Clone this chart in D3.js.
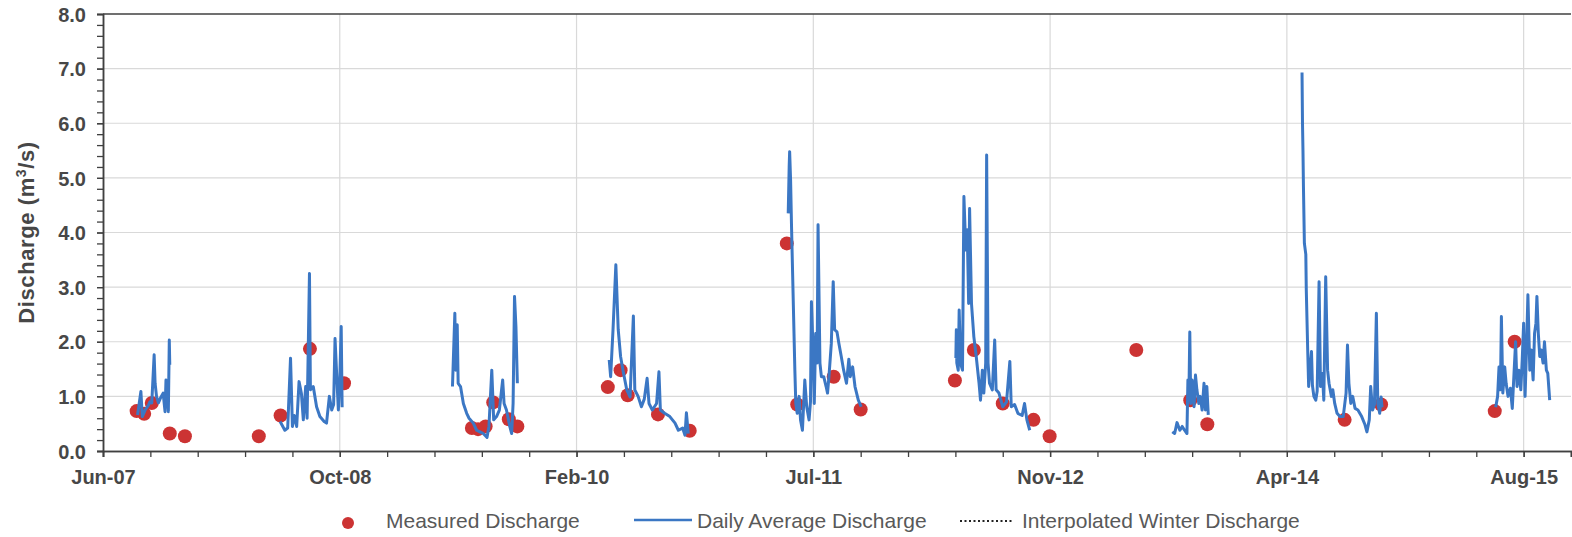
<!DOCTYPE html>
<html>
<head>
<meta charset="utf-8">
<script src="https://cdn.jsdelivr.net/npm/d3@7"></script>
<style>
  body { margin: 0; background: #fff; }
  text { font-family: "Liberation Sans", Arial, sans-serif; }
</style>
</head>
<body>
<svg id="chart" width="1572" height="537"></svg>
<script>
// ---- data ----
const axisStart = "2007-06-01";
const axisDays = 3100;      // axis runs 3100 days, major every 500, minor every 100
const xTickLabels = ["Jun-07", "Oct-08", "Feb-10", "Jul-11", "Nov-12", "Apr-14", "Aug-15"];
const yTicks = [0, 1, 2, 3, 4, 5, 6, 7, 8];

const measured = [
  ["2007-08-11", 0.73], ["2007-08-27", 0.68], ["2007-09-12", 0.88], ["2007-10-20", 0.32],
  ["2007-11-21", 0.27], ["2008-04-25", 0.27], ["2008-06-10", 0.65], ["2008-08-11", 1.87],
  ["2008-10-22", 1.24], ["2009-07-19", 0.42], ["2009-08-01", 0.40], ["2009-08-17", 0.45],
  ["2009-09-02", 0.89], ["2009-10-05", 0.58], ["2009-10-23", 0.45], ["2010-05-02", 1.17],
  ["2010-05-29", 1.48], ["2010-06-13", 1.02], ["2010-08-16", 0.67], ["2010-10-22", 0.37],
  ["2011-05-15", 3.80], ["2011-06-06", 0.85], ["2011-08-22", 1.36], ["2011-10-18", 0.76],
  ["2012-05-04", 1.29], ["2012-06-13", 1.85], ["2012-08-13", 0.87], ["2012-10-17", 0.57],
  ["2012-11-20", 0.27], ["2013-05-22", 1.85], ["2013-09-13", 0.93], ["2013-10-19", 0.49],
  ["2014-08-05", 0.57], ["2014-10-21", 0.85], ["2015-06-18", 0.73], ["2015-07-30", 2.00]
];

const daily2007 = [
  ["2007-08-13", 0.66], ["2007-08-20", 1.09], ["2007-08-23", 0.63], ["2007-08-29", 0.75],
  ["2007-09-05", 0.84], ["2007-09-08", 0.90], ["2007-09-12", 0.88], ["2007-09-17", 1.76],
  ["2007-09-19", 1.24], ["2007-09-22", 1.00], ["2007-09-26", 0.88], ["2007-10-01", 0.98],
  ["2007-10-06", 1.06], ["2007-10-10", 0.72], ["2007-10-12", 1.30], ["2007-10-14", 1.20],
  ["2007-10-17", 0.72], ["2007-10-19", 2.03], ["2007-10-20", 1.58]
];
const daily2008 = [
  ["2008-06-09", 0.54], ["2008-06-19", 0.38], ["2008-06-25", 0.42], ["2008-07-01", 1.70],
  ["2008-07-05", 0.45], ["2008-07-09", 0.65], ["2008-07-14", 0.45], ["2008-07-19", 1.27],
  ["2008-07-24", 1.05], ["2008-07-28", 0.57], ["2008-08-02", 1.18], ["2008-08-05", 0.60],
  ["2008-08-10", 3.25], ["2008-08-12", 1.12], ["2008-08-18", 1.18], ["2008-08-25", 0.81],
  ["2008-09-01", 0.63], ["2008-09-10", 0.54], ["2008-09-15", 0.51], ["2008-09-21", 1.00],
  ["2008-09-26", 0.75], ["2008-09-30", 0.85], ["2008-10-03", 2.06], ["2008-10-06", 1.48],
  ["2008-10-10", 0.75], ["2008-10-13", 1.30], ["2008-10-16", 2.28], ["2008-10-18", 0.80]
];
const daily2009 = [
  ["2009-06-08", 1.18], ["2009-06-13", 2.52], ["2009-06-15", 1.48], ["2009-06-18", 2.31],
  ["2009-06-20", 1.24], ["2009-06-25", 1.18], ["2009-07-01", 0.87], ["2009-07-08", 0.69],
  ["2009-07-13", 0.60], ["2009-07-22", 0.51], ["2009-07-29", 0.38], ["2009-08-05", 0.35],
  ["2009-08-12", 0.32], ["2009-08-20", 0.25], ["2009-08-24", 0.45], ["2009-08-30", 1.48],
  ["2009-09-03", 0.57], ["2009-09-09", 0.63], ["2009-09-15", 0.75], ["2009-09-22", 1.30],
  ["2009-09-25", 0.87], ["2009-09-30", 0.75], ["2009-10-07", 0.45], ["2009-10-11", 0.32],
  ["2009-10-14", 0.87], ["2009-10-17", 2.83], ["2009-10-20", 2.28], ["2009-10-23", 1.24]
];
const daily2010 = [
  ["2010-05-05", 1.67], ["2010-05-08", 1.36], ["2010-05-13", 2.22], ["2010-05-19", 3.41],
  ["2010-05-24", 2.22], ["2010-05-29", 1.73], ["2010-06-03", 1.48], ["2010-06-11", 1.12],
  ["2010-06-18", 0.99], ["2010-06-25", 2.47], ["2010-06-28", 1.12], ["2010-07-05", 1.00],
  ["2010-07-12", 0.81], ["2010-07-18", 0.95], ["2010-07-24", 1.33], ["2010-07-28", 0.87],
  ["2010-08-04", 0.75], ["2010-08-13", 0.87], ["2010-08-18", 1.45], ["2010-08-21", 0.75],
  ["2010-08-30", 0.69], ["2010-09-10", 0.63], ["2010-09-21", 0.51], ["2010-09-28", 0.38],
  ["2010-10-07", 0.42], ["2010-10-12", 0.29], ["2010-10-15", 0.70], ["2010-10-19", 0.32]
];
const daily2011 = [
  ["2011-05-18", 4.35], ["2011-05-20", 5.20], ["2011-05-21", 5.48], ["2011-05-23", 4.96],
  ["2011-05-25", 4.10], ["2011-06-01", 1.48], ["2011-06-03", 0.87], ["2011-06-06", 0.69],
  ["2011-06-10", 1.00], ["2011-06-13", 0.57], ["2011-06-17", 0.38], ["2011-06-22", 1.30],
  ["2011-06-26", 0.81], ["2011-07-01", 0.57], ["2011-07-04", 0.90], ["2011-07-06", 2.73],
  ["2011-07-09", 1.97], ["2011-07-12", 0.87], ["2011-07-15", 2.15], ["2011-07-18", 1.61],
  ["2011-07-20", 4.14], ["2011-07-24", 1.61], ["2011-07-27", 1.36], ["2011-08-01", 1.36],
  ["2011-08-06", 1.18], ["2011-08-09", 1.06], ["2011-08-12", 1.36], ["2011-08-17", 1.97],
  ["2011-08-21", 3.10], ["2011-08-24", 2.22], ["2011-08-29", 2.18], ["2011-09-02", 1.97],
  ["2011-09-07", 1.73], ["2011-09-12", 1.48], ["2011-09-18", 1.24], ["2011-09-23", 1.68],
  ["2011-09-26", 1.36], ["2011-10-01", 1.54], ["2011-10-06", 1.18], ["2011-10-13", 0.93],
  ["2011-10-19", 0.81]
];
const daily2012 = [
  ["2012-05-06", 1.70], ["2012-05-07", 2.22], ["2012-05-08", 1.61], ["2012-05-11", 1.48],
  ["2012-05-13", 2.58], ["2012-05-16", 1.60], ["2012-05-20", 1.48], ["2012-05-23", 4.66],
  ["2012-05-27", 3.68], ["2012-05-30", 4.05], ["2012-06-02", 2.70], ["2012-06-04", 4.44],
  ["2012-06-08", 2.70], ["2012-06-13", 2.09], ["2012-06-18", 1.73], ["2012-06-24", 1.24],
  ["2012-06-27", 0.93], ["2012-07-01", 1.48], ["2012-07-04", 1.06], ["2012-07-08", 1.61],
  ["2012-07-10", 5.42], ["2012-07-13", 1.61], ["2012-07-16", 1.24], ["2012-07-22", 1.12],
  ["2012-07-27", 2.03], ["2012-07-30", 1.12], ["2012-08-05", 1.06], ["2012-08-13", 0.81],
  ["2012-08-21", 0.90], ["2012-08-28", 1.64], ["2012-08-31", 0.81], ["2012-09-07", 0.85],
  ["2012-09-14", 0.69], ["2012-09-23", 0.65], ["2012-09-28", 0.87], ["2012-10-03", 0.57],
  ["2012-10-09", 0.38]
];
const daily2013 = [
  ["2013-08-06", 0.35], ["2013-08-11", 0.32], ["2013-08-16", 0.52], ["2013-08-22", 0.38],
  ["2013-08-27", 0.45], ["2013-09-01", 0.38], ["2013-09-06", 0.32], ["2013-09-08", 1.30],
  ["2013-09-10", 0.93], ["2013-09-12", 2.18], ["2013-09-14", 0.87], ["2013-09-17", 1.30],
  ["2013-09-21", 0.81], ["2013-09-24", 1.39], ["2013-09-27", 1.12], ["2013-10-01", 0.87],
  ["2013-10-04", 1.00], ["2013-10-08", 0.75], ["2013-10-12", 1.24], ["2013-10-15", 0.75],
  ["2013-10-18", 1.18], ["2013-10-21", 0.66]
];
const daily2014 = [
  ["2014-05-07", 6.93], ["2014-05-08", 6.00], ["2014-05-09", 5.50], ["2014-05-10", 4.84],
  ["2014-05-12", 3.80], ["2014-05-15", 3.60], ["2014-05-16", 2.95], ["2014-05-19", 1.85],
  ["2014-05-21", 1.18], ["2014-05-24", 1.50], ["2014-05-27", 1.82], ["2014-05-29", 1.20],
  ["2014-06-01", 1.00], ["2014-06-05", 0.93], ["2014-06-08", 1.10], ["2014-06-12", 3.10],
  ["2014-06-15", 1.18], ["2014-06-19", 1.42], ["2014-06-22", 0.93], ["2014-06-26", 3.19],
  ["2014-06-30", 1.48], ["2014-07-03", 1.24], ["2014-07-08", 1.00], ["2014-07-11", 1.12],
  ["2014-07-15", 0.87], ["2014-07-20", 0.69], ["2014-07-26", 0.63], ["2014-08-02", 0.63],
  ["2014-08-08", 1.06], ["2014-08-11", 1.94], ["2014-08-14", 1.24], ["2014-08-18", 0.87],
  ["2014-08-22", 1.00], ["2014-08-27", 0.78], ["2014-09-02", 0.75], ["2014-09-10", 0.63],
  ["2014-09-17", 0.48], ["2014-09-21", 0.35], ["2014-09-26", 0.57], ["2014-09-29", 1.18],
  ["2014-10-03", 0.75], ["2014-10-07", 0.85], ["2014-10-11", 2.52], ["2014-10-14", 0.87],
  ["2014-10-18", 0.69], ["2014-10-21", 0.99], ["2014-10-23", 0.80]
];
const daily2015 = [
  ["2015-06-20", 0.80], ["2015-06-24", 1.00], ["2015-06-27", 1.54], ["2015-06-30", 1.12],
  ["2015-07-02", 2.46], ["2015-07-05", 1.06], ["2015-07-09", 1.54], ["2015-07-12", 1.24],
  ["2015-07-16", 1.00], ["2015-07-21", 1.15], ["2015-07-25", 0.78], ["2015-07-29", 1.48],
  ["2015-08-01", 2.00], ["2015-08-04", 1.18], ["2015-08-08", 1.48], ["2015-08-12", 1.12],
  ["2015-08-15", 1.67], ["2015-08-18", 2.34], ["2015-08-21", 1.00], ["2015-08-24", 1.85],
  ["2015-08-27", 2.86], ["2015-08-31", 1.48], ["2015-09-03", 1.85], ["2015-09-07", 1.30],
  ["2015-09-10", 2.15], ["2015-09-13", 2.34], ["2015-09-15", 2.83], ["2015-09-18", 2.15],
  ["2015-09-21", 1.73], ["2015-09-24", 1.85], ["2015-09-28", 1.61], ["2015-10-01", 2.00],
  ["2015-10-05", 1.48], ["2015-10-08", 1.42], ["2015-10-12", 0.93]
];
// no interpolated winter values are drawn in this figure, only the legend entry
const winterInterp = [];

// ---- layout ----
const W = 1572, H = 537;
const margin = {top: 14, right: 1, bottom: 86, left: 103};
const width = W - margin.left - margin.right;
const height = H - margin.top - margin.bottom;
const axisColor = "#404040";
const labelColor = "#474747";
const blue = "#3b77c4";
const red = "#cc3333";

const parse = d3.timeParse("%Y-%m-%d");
const t0 = parse(axisStart);
const t1 = d3.timeDay.offset(t0, axisDays);

let x = d3.scaleTime().domain([t0, t1]).range([0, width]);
let y = d3.scaleLinear().domain([0, 8]).range([height, 0]);

const svg = d3.select("#chart");
svg.append("rect").attr("width", W).attr("height", H).attr("fill", "#fff");
const g = svg.append("g").attr("transform", "translate(" + margin.left + "," + margin.top + ")");

const majorDates = d3.range(0, axisDays, 500).map(d => d3.timeDay.offset(t0, d));
const minorDates = d3.range(0, axisDays + 1, 100).map(d => d3.timeDay.offset(t0, d));

// gridlines
g.append("g").selectAll("line")
  .data(yTicks.filter(v => v > 0 && v < 8))
  .enter().append("line")
  .attr("x1", 0).attr("x2", width)
  .attr("y1", d => y(d)).attr("y2", d => y(d))
  .attr("stroke", "#d9d9d9").attr("stroke-width", 1.2);

g.append("g").selectAll("line")
  .data(majorDates.slice(1))
  .enter().append("line")
  .attr("x1", d => x(d)).attr("x2", d => x(d))
  .attr("y1", 0).attr("y2", height)
  .attr("stroke", "#d9d9d9").attr("stroke-width", 1.2);

// top border
g.append("line")
  .attr("x1", 0).attr("x2", width).attr("y1", 0).attr("y2", 0)
  .attr("stroke", axisColor).attr("stroke-width", 1.5);

// x axis: minor ticks then labelled major ticks
const xMinor = g.append("g").attr("transform", "translate(0," + height + ")")
  .call(d3.axisBottom(x).tickValues(minorDates).tickSize(6).tickFormat(""));
const xMajor = g.append("g").attr("transform", "translate(0," + height + ")")
  .call(d3.axisBottom(x).tickValues(majorDates).tickSize(6).tickPadding(13)
    .tickFormat((d, i) => xTickLabels[i]));

// y axis
const yMinor = g.append("g")
  .call(d3.axisLeft(y).tickValues(d3.range(0, 8.01, 0.2)).tickSize(6).tickFormat(""));
const yMajor = g.append("g")
  .call(d3.axisLeft(y).tickValues(yTicks).tickSize(6).tickPadding(11).tickFormat(d3.format(".1f")));

[xMinor, xMajor, yMinor, yMajor].forEach(a => {
  a.select(".domain").attr("stroke", axisColor).attr("stroke-width", 1.5);
  a.selectAll(".tick line").attr("stroke", axisColor).attr("stroke-width", 1.3);
  a.selectAll("text")
    .attr("fill", labelColor)
    .style("font-size", "20px")
    .style("font-weight", "bold")
    .style("font-family", "'Liberation Sans', Arial, sans-serif");
});
yMajor.selectAll("text").attr("dy", "0.36em");

// measured points (under the line)
g.append("g").selectAll("circle")
  .data(measured)
  .enter().append("circle")
  .attr("cx", d => x(parse(d[0])))
  .attr("cy", d => y(d[1]))
  .attr("r", 7)
  .attr("fill", red);

// daily average discharge, one path per season
const line = d3.line()
  .x(d => x(parse(d[0])))
  .y(d => y(d[1]));

const seasons = [daily2007, daily2008, daily2009, daily2010, daily2011,
                 daily2012, daily2013, daily2014, daily2015];
g.append("g").selectAll("path")
  .data(seasons)
  .enter().append("path")
  .attr("d", line)
  .attr("fill", "none")
  .attr("stroke", blue)
  .attr("stroke-width", 3)
  .attr("stroke-linejoin", "round");

g.append("g").selectAll("path")
  .data(winterInterp.length ? [winterInterp] : [])
  .enter().append("path")
  .attr("d", line)
  .attr("fill", "none")
  .attr("stroke", "#000")
  .attr("stroke-dasharray", "2,2");

// y axis title
svg.append("text")
  .attr("transform", "translate(34," + (margin.top + height / 2) + ") rotate(-90)")
  .attr("text-anchor", "middle")
  .attr("fill", labelColor)
  .style("font-size", "22px")
  .style("font-weight", "bold")
  .style("letter-spacing", "0.6px")
  .call(t => {
    t.append("tspan").text("Discharge (m");
    t.append("tspan").text("3").attr("baseline-shift", "super").style("font-size", "14px");
    t.append("tspan").text("/s)");
  });

// legend
const legend = svg.append("g").attr("transform", "translate(0,528)");
const legendText = (xPos, label) => legend.append("text")
  .attr("x", xPos).attr("y", 0)
  .attr("fill", "#595959")
  .style("font-size", "21px")
  .text(label);

legend.append("circle").attr("cx", 348).attr("cy", -5).attr("r", 6).attr("fill", red);
legendText(386, "Measured Discharge");
legend.append("line").attr("x1", 634).attr("x2", 692).attr("y1", -8).attr("y2", -8)
  .attr("stroke", blue).attr("stroke-width", 2.6);
legendText(697, "Daily Average Discharge");
legend.append("line").attr("x1", 960).attr("x2", 1012).attr("y1", -7).attr("y2", -7)
  .attr("stroke", "#222").attr("stroke-width", 2).attr("stroke-dasharray", "2,2.5");
legendText(1022, "Interpolated Winter Discharge");
</script>
</body>
</html>
